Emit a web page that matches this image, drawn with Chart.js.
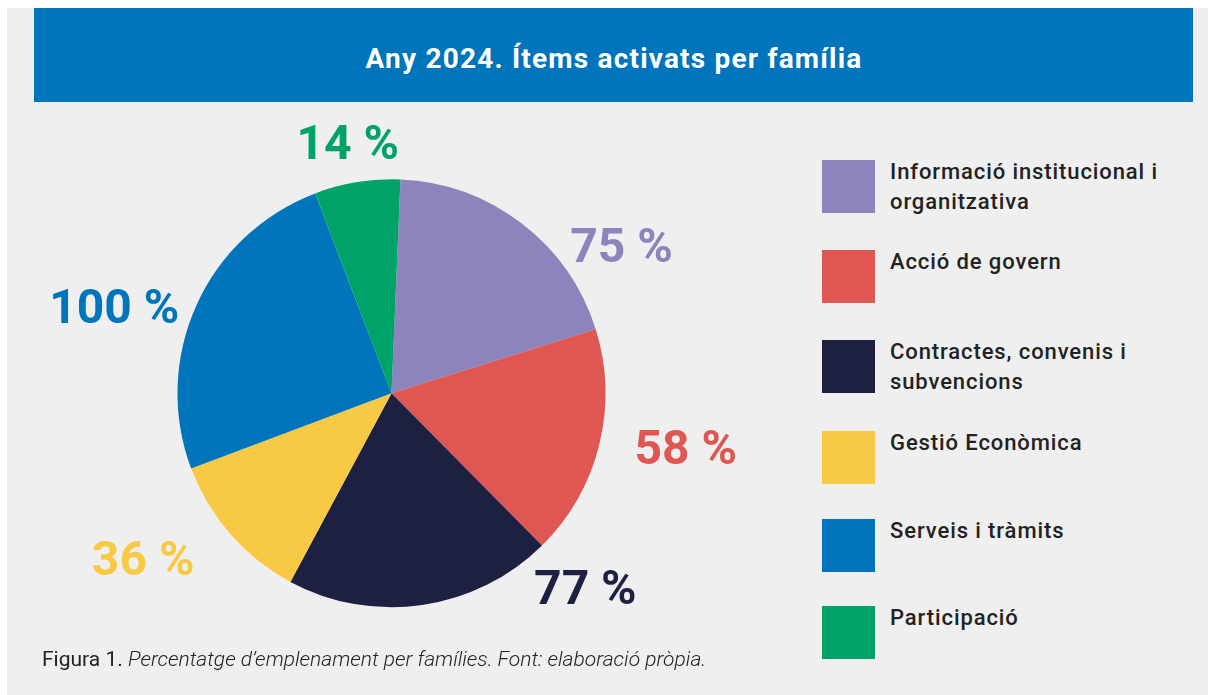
<!DOCTYPE html>
<html>
<head>
<meta charset="utf-8">
<script src="https://cdn.jsdelivr.net/npm/chart.js@4"></script>
<style>
  html, body { margin: 0; padding: 0; background: #fff; }
  body { width: 1208px; height: 695px; position: relative; overflow: hidden; font-family: Roboto, "Noto Sans", sans-serif; }
  #panel { position: absolute; left: 7px; top: 8px; width: 1201px; height: 687px; background: #efefef; }
  #banner { position: absolute; left: 34px; top: 8px; width: 1159px; height: 94px; box-sizing: border-box; padding-top: 7px; padding-left: 1px;
            background: #0075bb; color: #fff; font-weight: 700; font-size: 28px; letter-spacing: 1.2px;
            display: flex; align-items: center; justify-content: center; }
  #chart-wrap { position: absolute; left: 0; top: 0; width: 780px; height: 695px; }
  #legend { position: absolute; left: 822px; top: 160px; width: 380px; }
  .item { position: absolute; left: 0; height: 53px; }
  .item .box { position: absolute; left: 0; top: 0; width: 53px; height: 53px; }
  .item .txt { position: absolute; left: 68px; top: -3.2px; width: 320px; font-size: 22px; font-weight: 500; letter-spacing: 0.9px;
               color: #222; line-height: 30px; }
  #caption { position: absolute; left: 42px; top: 647px; font-size: 21px; color: #222; white-space: nowrap; }
  #caption i { font-style: italic; font-weight: 300; }
</style>
</head>
<body>
<div id="panel"></div>
<div id="banner">Any 2024. Ítems activats per família</div>
<div id="chart-wrap"><canvas id="pie"></canvas></div>
<div id="legend"></div>
<div id="caption">Figura 1. <i>Percentatge d’emplenament per famílies. Font: elaboració pròpia.</i></div>

<script>
// Families, in drawing order (clockwise from the top)
const families = [
    'Informació institucional i organitzativa',
    'Acció de govern',
    'Contractes, convenis i subvencions',
    'Gestió Econòmica',
    'Serveis i tràmits',
    'Participació'
];
// Slice sizes (degrees of the pie)
const sliceSizes = [70.2, 62.7, 72.9, 41.2, 89.7, 23.3];
// Percent labels printed next to each slice
const percentLabels = ['75 %', '58 %', '77 %', '36 %', '100 %', '14 %'];

const colors = ['#8c84bc', '#df5753', '#1d2040', '#f8c944', '#0075bb', '#00a367'];

// where each percent label sits: angle (deg, clockwise from top) and distance / radius
const labelPlacement = [
    [57.8, 1.27], [100.9, 1.40], [135.4, 1.29], [236.0, 1.40], [287.0, 1.355], [350.0, 1.18]
];

// LEGEND - built from the family names and colours
const legendEl = document.getElementById('legend');
const legendTops = [0, 90, 180, 271, 359, 446];
families.forEach((name, i) => {
    const item = document.createElement('div');
    item.className = 'item';
    item.style.top = legendTops[i] + 'px';
    item.innerHTML = `<div class="box" style="background:${colors[i]}"></div><div class="txt">${name}</div>`;
    legendEl.appendChild(item);
});

// Percent labels around the pie
const percentLabelPlugin = {
    id: 'percentLabels',
    afterDatasetsDraw(chart) {
        const ctx = chart.ctx;
        const arcs = chart.getDatasetMeta(0).data;
        ctx.save();
        ctx.font = 'bold 48px Roboto';
        ctx.textAlign = 'center';
        ctx.textBaseline = 'middle';
        arcs.forEach((arc, i) => {
            const [deg, f] = labelPlacement[i];
            const a = deg * Math.PI / 180;
            const r = arc.outerRadius * f;
            ctx.fillStyle = colors[i];
            ctx.fillText(percentLabels[i], arc.x + r * Math.sin(a), arc.y - r * Math.cos(a) + 2);
        });
        ctx.restore();
    }
};

new Chart(document.getElementById('pie').getContext('2d'), {
    type: 'pie',
    data: {
        labels: families,
        datasets: [{
            data: sliceSizes,
            backgroundColor: colors,
            borderWidth: 0
        }]
    },
    options: {
        responsive: true,
        maintainAspectRatio: false,
        animation: false,
        rotation: 2.4,
        layout: { padding: { left: 177.5, right: 174.5, top: 179.3, bottom: 87.7 } },
        plugins: {
            legend: { display: false },
            tooltip: { enabled: false }
        }
    },
    plugins: [percentLabelPlugin]
});
</script>
</body>
</html>
